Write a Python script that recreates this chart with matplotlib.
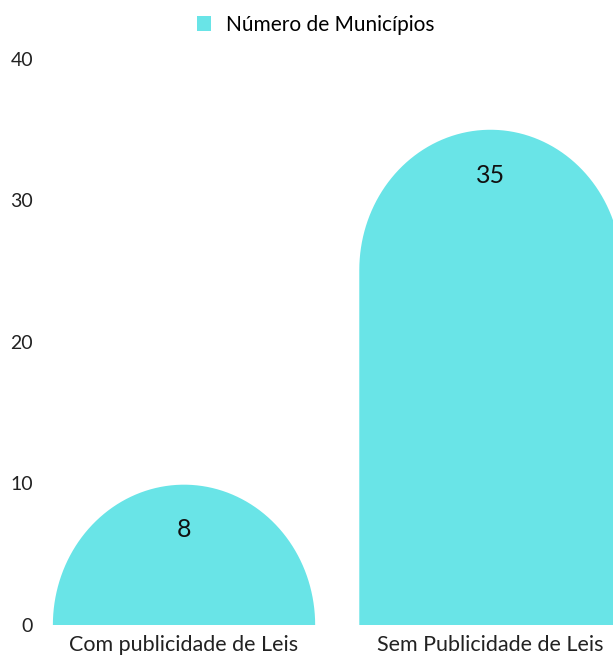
import matplotlib
matplotlib.use("Agg")
import matplotlib.pyplot as plt
import numpy as np
from matplotlib.path import Path
from matplotlib.patches import PathPatch, Patch

# ── Data ────────────────────────────────────────────────────
categories = ["Com publicidade de Leis", "Sem Publicidade de Leis"]
values     = [8, 35]
series     = "Número de Municípios"
yticks     = [0, 10, 20, 30, 40]

BAR_COLOR = "#69E4E7"
FONT = ["Lato", "DejaVu Sans"]
plt.rcParams["font.family"] = FONT

# ── Figure / axes ───────────────────────────────────────────
W, H = 613, 659
fig = plt.figure(figsize=(W / 100, H / 100), dpi=100)
left_px, right_px, bot_px, top_px = 40, 613, 625, 59
ax = fig.add_axes([left_px / W, 1 - bot_px / H,
                   (right_px - left_px) / W, (bot_px - top_px) / H])
ax.set_xlim(-0.47, 1.40)
ax.set_ylim(0, 40)

# pixel scale, so the cap is a round arc on screen
p0, p1 = ax.transData.transform([(0, 0), (1, 1)])
px_x, px_y = p1[0] - p0[0], p1[1] - p0[1]

bar_w = 0.856
rx = bar_w / 2
ry = rx * px_x / px_y * 1.07

for i, v in enumerate(values):
    top = max(v, ry)
    body = top - ry
    theta = np.linspace(0, np.pi, 80)
    xs = i + rx * np.cos(theta)
    ys = body + ry * np.sin(theta)
    verts = [(i + rx, 0)] + list(zip(xs, ys)) + [(i - rx, 0), (i + rx, 0)]
    codes = [Path.MOVETO] + [Path.LINETO] * (len(verts) - 2) + [Path.CLOSEPOLY]
    ax.add_patch(PathPatch(Path(verts, codes), facecolor=BAR_COLOR,
                           edgecolor="none"))
    ax.text(i, top - 3.2, str(v), ha="center", va="center",
            fontsize=18, color="#111111")

# ── Axes styling ────────────────────────────────────────────
for s in ax.spines.values():
    s.set_visible(False)
ax.set_yticks(yticks)
ax.set_yticklabels([str(t) for t in yticks], fontsize=14, color="#222222")
ax.set_xticks(range(len(categories)))
ax.set_xticklabels(categories, fontsize=15.5, color="#222222")
ax.tick_params(axis="y", length=0, pad=5)
ax.tick_params(axis="x", length=0, pad=7)

fig.legend(handles=[Patch(facecolor=BAR_COLOR, label=series)],
           loc="center", bbox_to_anchor=(0.515, 1 - 25 / H),
           frameon=False, fontsize=15, handlelength=0.7, handleheight=0.7,
           handletextpad=0.7)

fig.savefig("out.png", dpi=100)
